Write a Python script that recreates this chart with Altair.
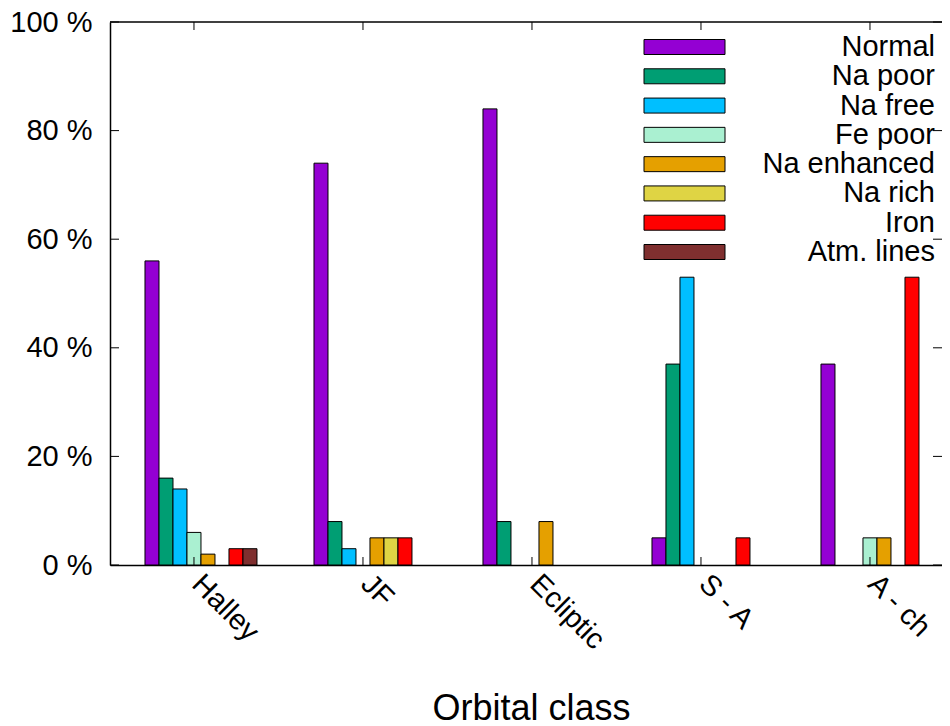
import altair as alt
import pandas as pd

categories = ["Halley", "JF", "Ecliptic", "S - A", "A - ch"]
series = ["Normal", "Na poor", "Na free", "Fe poor", "Na enhanced", "Na rich", "Iron", "Atm. lines"]
colors = ["#9400D3", "#009E73", "#00BFFF", "#AAF0D1", "#E5A000", "#DFD444", "#FF0000", "#7F2F2F"]

normal = [56, 74, 84, 5, 37]
na_poor = [16, 8, 8, 37, 0]
na_free = [14, 3, 0, 53, 0]
fe_poor = [6, 0, 0, 0, 5]
na_enhanced = [2, 5, 8, 0, 5]
na_rich = [0, 5, 0, 0, 0]
iron = [3, 5, 0, 5, 53]
atm_lines = [3, 0, 0, 0, 0]

y_ticks = [0, 20, 40, 60, 80, 100]

all_values = [normal, na_poor, na_free, fe_poor, na_enhanced, na_rich, iron, atm_lines]
rows = []
for s, vals in zip(series, all_values):
    for c, v in zip(categories, vals):
        if v > 0:
            rows.append({"cat": c, "series": s, "value": v})
df = pd.DataFrame(rows)

W, H = 832, 543
FONT = "Liberation Sans"
FS = 29

xscale = alt.Scale(domain=categories, paddingInner=0.3373, paddingOuter=0.1302, align=0.795)
yscale = alt.Scale(domain=[0, 100], nice=False, zero=True)

x_axis = alt.Axis(title="Orbital class", labelAngle=45, labelAlign="left",
                  labelBaseline="middle", labelFontSize=FS, labelFont=FONT,
                  labelColor="black", labelPadding=14, labelOffset=-4,
                  ticks=False, domain=True, domainColor="black", domainWidth=1.5,
                  titleFontSize=36, titleFont=FONT, titleFontWeight="normal",
                  titleColor="black", titleBaseline="alphabetic", titleY=154,
                  titleX=421, labelLimit=300)


def x_enc():
    return alt.X("cat:N", scale=xscale, sort=categories, axis=x_axis)


bars = alt.Chart(df).mark_bar(stroke="black", strokeWidth=1).encode(
    x=x_enc(),
    xOffset=alt.XOffset("series:N", scale=alt.Scale(domain=series, paddingInner=0, paddingOuter=0)),
    y=alt.Y("value:Q", scale=yscale,
            axis=alt.Axis(title=None, values=y_ticks, labelExpr="datum.value + ' %'",
                          labelFontSize=FS, labelFont=FONT, labelColor="black",
                          labelPadding=18, ticks=False, grid=False, domain=True,
                          domainColor="black", domainWidth=1.5)),
    color=alt.Color("series:N", scale=alt.Scale(domain=series, range=colors), legend=None),
)

yt = pd.DataFrame({"v": y_ticks})
left_ticks = alt.Chart(yt).mark_rule(color="black", strokeWidth=1).encode(
    y=alt.Y("v:Q", scale=yscale, axis=None), x=alt.value(0), x2=alt.value(9))
right_ticks = alt.Chart(yt).mark_rule(color="black", strokeWidth=1).encode(
    y=alt.Y("v:Q", scale=yscale, axis=None), x=alt.value(W - 9), x2=alt.value(W))

xt = pd.DataFrame({"cat": categories})
bottom_ticks = alt.Chart(xt).mark_rule(color="black", strokeWidth=1, xOffset=-7).encode(
    x=x_enc(), y=alt.value(H - 8), y2=alt.value(H))
top_ticks = alt.Chart(xt).mark_rule(color="black", strokeWidth=1, xOffset=-7).encode(
    x=x_enc(), y=alt.value(0), y2=alt.value(8))

top_border = alt.Chart(pd.DataFrame({"a": [0]})).mark_rule(color="black", strokeWidth=1.5).encode(
    x=alt.value(0), x2=alt.value(W), y=alt.value(0))

leg_df = pd.DataFrame({"series": series})
leg_y = alt.Y("series:N", scale=alt.Scale(type="point", domain=series, range=[25, 230],
                                          padding=0), axis=None)
leg_rect = alt.Chart(leg_df).mark_bar(height=15, stroke="black", strokeWidth=1).encode(
    x=alt.value(534), x2=alt.value(615), y=leg_y,
    color=alt.Color("series:N", scale=alt.Scale(domain=series, range=colors), legend=None))
leg_text = alt.Chart(leg_df).mark_text(align="right", baseline="middle", fontSize=FS,
                                       font=FONT, color="black").encode(
    x=alt.value(825), y=leg_y, text="series:N")

chart = alt.layer(
    bars, left_ticks, right_ticks, bottom_ticks, top_ticks, top_border, leg_rect, leg_text
).resolve_scale(y="independent").properties(
    width=W, height=H,
    autosize=alt.AutoSizeParams(type="none"),
    padding={"left": 102, "top": 14, "right": 0, "bottom": 161},
    background="white",
).configure_view(stroke=None)

chart.save("out.html", embed_options={"renderer": "svg", "actions": False})
